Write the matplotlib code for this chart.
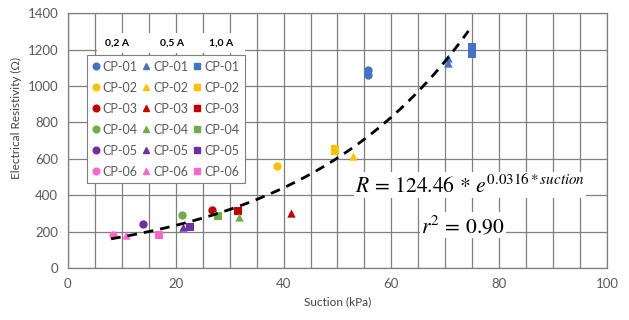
import numpy as np
import matplotlib.pyplot as plt
from matplotlib.lines import Line2D

# sample names and colours
samples = ['CP-01', 'CP-02', 'CP-03', 'CP-04', 'CP-05', 'CP-06']
colors = ['#4472C4', '#FFC000', '#C00000', '#70AD47', '#7030A0', '#FF66CC']

# 0,2 A (circles)
x_02 = [[55.7, 55.7], [38.7], [26.8], [21.2], [13.9], [8.4]]
y_02 = [[1062, 1085], [562], [318], [291], [241], [181]]
# 0,5 A (triangles)
x_05 = [[70.5, 70.5], [52.9], [41.3], [31.7], [21.3], [10.8]]
y_05 = [[1153, 1128], [615], [302], [280], [226], [181]]
# 1,0 A (squares)
x_10 = [[75.0, 75.0, 75.0], [49.5, 49.5], [31.5], [27.9], [22.6], [16.9]]
y_10 = [[1178, 1198, 1215], [640, 656], [313], [285], [226], [181]]

# exponential fit R = a * exp(b * suction)
fit_a = 124.46
fit_b = 0.0316
fit_xmin, fit_xmax = 8.0, 74.3

headers = ['0,2 A', '0,5 A', '1,0 A']


def main():
    plt.rcParams['font.family'] = ['Lato', 'DejaVu Sans']
    plt.rcParams['mathtext.fontset'] = 'stix'

    fig = plt.figure(figsize=(6.29, 3.2), dpi=100)
    ax = fig.add_axes([0.108, 0.1625, 0.857, 0.7965])

    ms = 36
    for i in range(len(samples)):
        ax.scatter(x_02[i], y_02[i], s=ms, marker='o', color=colors[i], zorder=3, linewidths=0)
        ax.scatter(x_05[i], y_05[i], s=ms, marker='^', color=colors[i], zorder=3, linewidths=0)
        ax.scatter(x_10[i], y_10[i], s=ms, marker='s', color=colors[i], zorder=3, linewidths=0)

    xf = np.linspace(fit_xmin, fit_xmax, 200)
    ax.plot(xf, fit_a * np.exp(fit_b * xf), color='black', lw=2, ls=(0, (3.5, 2.5)), zorder=4)

    ax.set_xlim(0, 100)
    ax.set_ylim(0, 1400)
    ax.set_xticks(np.arange(0, 101, 20))
    ax.set_xticks(np.arange(0, 101, 5), minor=True)
    ax.set_yticks(np.arange(0, 1401, 200))
    ax.grid(True, which='both', axis='x', color='#7f7f7f', lw=0.9)
    ax.grid(True, which='major', axis='y', color='#7f7f7f', lw=0.9)
    ax.set_axisbelow(True)
    for sp in ax.spines.values():
        sp.set_color('#7f7f7f')
        sp.set_linewidth(0.9)
    ax.tick_params(which='both', length=0, labelsize=9.5, labelcolor='#595959', pad=7)

    ax.set_xlabel('Suction (kPa)', fontsize=8.5, color='#404040', labelpad=5)
    ax.set_ylabel('Electrical Resistivity (Ω)', fontsize=8.5, color='#404040')
    ax.yaxis.set_label_coords(-0.085, 0.59)

    # legend: three columns (current), circles / triangles / squares
    handles = []
    for mk in ['o', '^', 's']:
        for i, name in enumerate(samples):
            handles.append(Line2D([], [], marker=mk, color=colors[i], ls='none',
                                  markersize=4.8, label=name))
    leg = ax.legend(handles=handles, ncol=3, loc='upper left',
                    bbox_to_anchor=(0.035, 0.835), fontsize=9,
                    frameon=True, fancybox=False, handlelength=0.5,
                    handletextpad=0.3, columnspacing=0.45, labelspacing=0.72,
                    borderpad=0.45, borderaxespad=0, labelcolor='#595959')
    leg.get_frame().set_edgecolor('#7f7f7f')
    leg.get_frame().set_linewidth(0.8)
    leg.get_frame().set_alpha(1)

    # header band above legend
    ax.add_patch(plt.Rectangle((5.4, 1180), 27.4, 110, facecolor='white',
                               edgecolor='none', zorder=2.5))
    for hx, h in zip([9.1, 19.4, 28.4], headers):
        ax.text(hx, 1236, h, fontsize=7.5, fontweight='bold', ha='center',
                va='center', zorder=5)

    ax.text(74.6, 456, r'$R\,=\,124.46\,*\,e^{0.0316*suction}$', fontsize=15.5,
            ha='center', va='center', zorder=5,
            bbox=dict(facecolor='white', edgecolor='none', pad=1))
    ax.text(73.3, 236, r'$r^2\,=\,0.90$', fontsize=15.5, ha='center', va='center',
            zorder=5, bbox=dict(facecolor='white', edgecolor='none', pad=1))

    plt.savefig('out.png', dpi=100)


if __name__ == '__main__':
    main()
